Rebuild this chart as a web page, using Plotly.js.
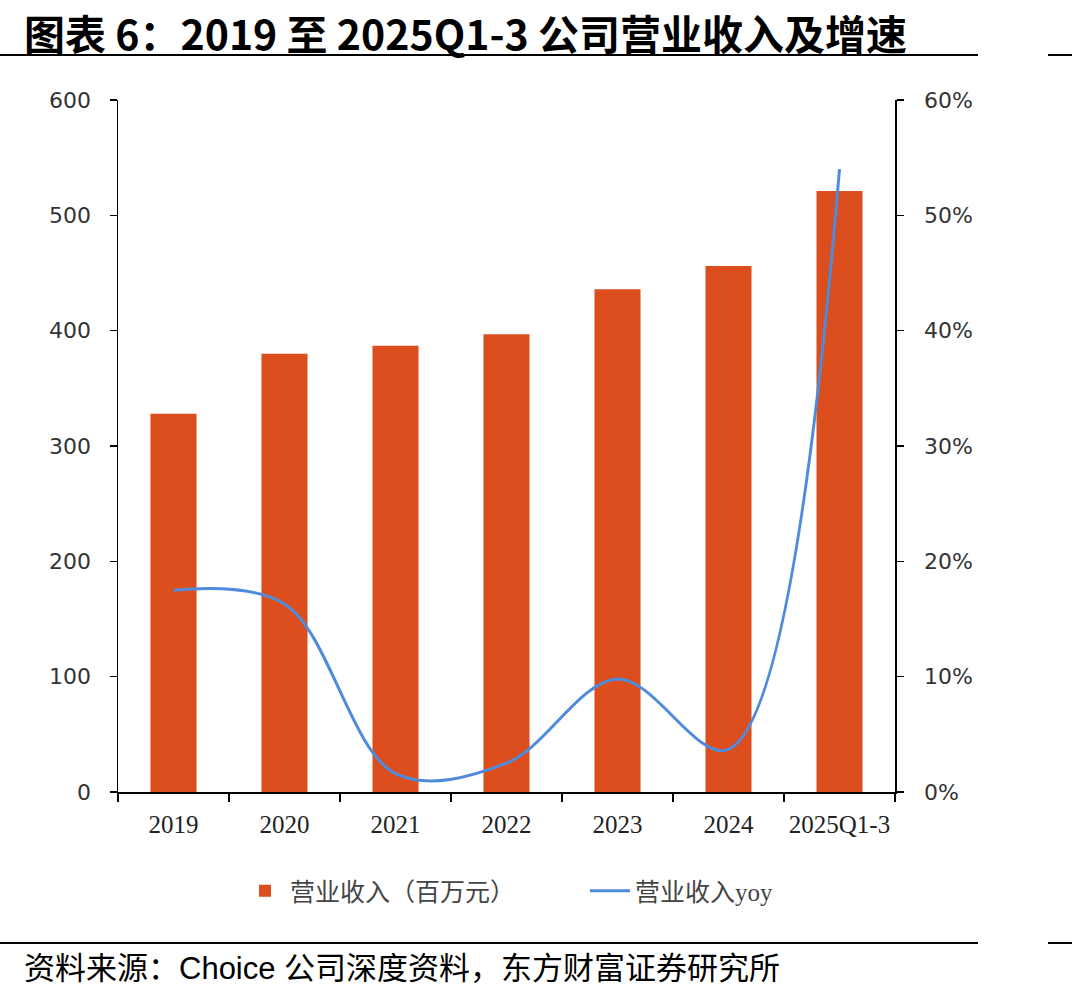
<!DOCTYPE html>
<html>
<head>
<meta charset="utf-8">
<script src="https://cdn.plot.ly/plotly-3.0.1.min.js"></script>
<style>
html,body{margin:0;padding:0;background:#fff;}
#chart{width:1072px;height:998px;}
</style>
</head>
<body>
<div id="chart"></div>
<script>
// ---- data ----
const categories = ['2019', '2020', '2021', '2022', '2023', '2024', '2025Q1-3'];
const revenue = [328, 380, 387, 397, 436, 456, 521];           // 营业收入（百万元）
const revenueYoY = [0.175, 0.163, 0.016, 0.025, 0.098, 0.037, 0.540]; // 营业收入yoy
const leftTicks = [0, 100, 200, 300, 400, 500, 600];
const rightTicks = [0, 0.1, 0.2, 0.3, 0.4, 0.5, 0.6];

const titleText = '图表 6：2019 至 2025Q1-3 公司营业收入及增速';
const sourceText = '资料来源：Choice 公司深度资料，东方财富证券研究所';

// ---- layout helpers (pixel -> paper) ----
const W = 1072, H = 998;
const M = {l: 118, r: 177, t: 100, b: 206};
const PW = W - M.l - M.r, PH = H - M.t - M.b;
const px = x => (x - M.l) / PW;
const py = y => (H - M.b - y) / PH;

const barColor = '#DC4E1E';
const lineColor = '#4F8BDC';
const cjk = '"Noto Sans CJK SC", sans-serif';

const traces = [
  {
    type: 'bar',
    name: '营业收入（百万元）',
    x: categories,
    y: revenue,
    marker: {color: barColor},
    yaxis: 'y',
    hoverinfo: 'x+y'
  },
  {
    type: 'scatter',
    mode: 'lines',
    name: '营业收入yoy',
    x: categories,
    y: revenueYoY,
    yaxis: 'y2',
    line: {color: lineColor, width: 3, shape: 'spline', smoothing: 1}
  }
];

const axisCommon = {
  showgrid: false,
  zeroline: false,
  showline: true,
  linecolor: '#000',
  linewidth: 1.5,
  ticks: 'outside',
  ticklen: 7,
  tickwidth: 1.5,
  tickcolor: '#000'
};

const layout = {
  width: W,
  height: H,
  margin: M,
  paper_bgcolor: '#fff',
  plot_bgcolor: '#fff',
  bargap: 0.585,
  showlegend: true,
  legend: {
    orientation: 'h',
    x: px(240),
    xanchor: 'left',
    y: py(891),
    yanchor: 'middle',
    font: {family: '"Liberation Serif", "Noto Sans CJK SC", serif', size: 25, color: '#444'},
    entrywidth: 290,
    itemwidth: 40,
    bgcolor: 'rgba(0,0,0,0)'
  },
  xaxis: Object.assign({}, axisCommon, {
    type: 'category',
    tickson: 'boundaries',
    ticklen: 8,
    tickfont: {family: '"Liberation Serif", serif', size: 25, color: '#222'},
    ticklabelstandoff: 9
  }),
  yaxis: Object.assign({}, axisCommon, {
    range: [0, 600],
    tickvals: leftTicks,
    ticktext: leftTicks.map(String),
    tickfont: {family: '"DejaVu Sans", sans-serif', size: 22, color: '#333'},
    ticklabelstandoff: 14
  }),
  yaxis2: Object.assign({}, axisCommon, {
    overlaying: 'y',
    side: 'right',
    range: [0, 0.6],
    tickvals: rightTicks,
    ticktext: rightTicks.map(v => Math.round(v * 100) + '%'),
    tickfont: {family: '"DejaVu Sans", sans-serif', size: 22, color: '#333'},
    ticklabelstandoff: 16
  }),
  annotations: [
    {
      xref: 'paper', yref: 'paper',
      x: px(23), y: py(1), xanchor: 'left', yanchor: 'top',
      text: '<b>' + titleText + '</b>',
      showarrow: false,
      borderpad: 0,
      font: {family: cjk, size: 41, color: '#000'}
    },
    {
      xref: 'paper', yref: 'paper',
      x: px(22), y: py(968), xanchor: 'left', yanchor: 'middle',
      text: sourceText,
      showarrow: false,
      font: {family: '"Liberation Sans", "Noto Sans CJK SC", sans-serif', size: 31, color: '#000'}
    }
  ],
  shapes: [
    {type: 'line', xref: 'paper', yref: 'paper', x0: px(0), x1: px(978), y0: py(55), y1: py(55), line: {color: '#000', width: 2}},
    {type: 'line', xref: 'paper', yref: 'paper', x0: px(1048), x1: px(1072), y0: py(55), y1: py(55), line: {color: '#000', width: 2}},
    {type: 'line', xref: 'paper', yref: 'paper', x0: px(0), x1: px(978), y0: py(943), y1: py(943), line: {color: '#000', width: 2}},
    {type: 'line', xref: 'paper', yref: 'paper', x0: px(1048), x1: px(1072), y0: py(943), y1: py(943), line: {color: '#000', width: 2}}
  ]
};

Plotly.newPlot('chart', traces, layout, {staticPlot: true, displayModeBar: false});
</script>
</body>
</html>
